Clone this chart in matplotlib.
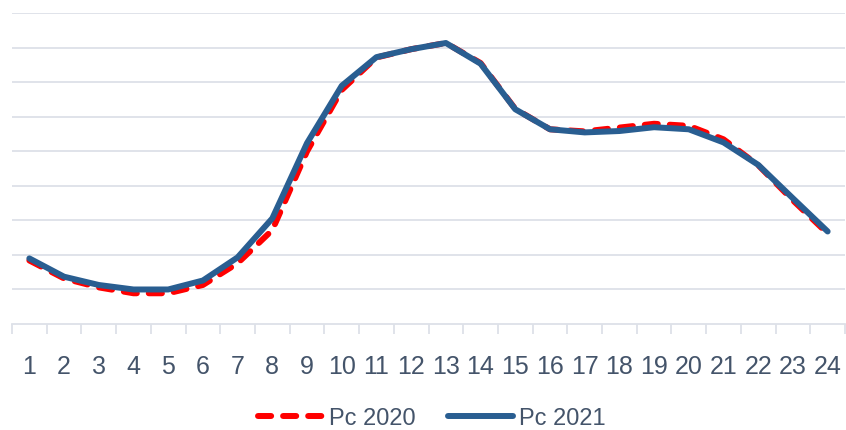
import matplotlib.pyplot as plt
import numpy as np

hours = list(range(1, 25))
pc_2020 = [1.84, 1.32, 1.06, 0.89, 0.89, 1.13, 1.76, 2.72, 5.00, 6.78, 7.72, 7.96, 8.14, 7.56,
           6.23, 5.64, 5.58, 5.69, 5.80, 5.74, 5.35, 4.60, 3.58, 2.62]
pc_2021 = [1.90, 1.37, 1.13, 1.00, 1.00, 1.26, 1.93, 3.06, 5.24, 6.90, 7.73, 7.96, 8.14, 7.54,
           6.22, 5.64, 5.55, 5.59, 5.70, 5.64, 5.26, 4.61, 3.64, 2.68]

plt.rcParams['font.family'] = ['Liberation Sans', 'DejaVu Sans']

fig = plt.figure(figsize=(8.46, 4.30), dpi=100)
ax = fig.add_axes([12 / 846, 106 / 430, 833 / 846, 310.7 / 430])

ax.plot(hours, pc_2020, color='#FF0000', lw=4.3, dashes=(2.2, 2.0),
        dash_capstyle='round', solid_capstyle='round', label='Pc 2020', zorder=3)
ax.plot(hours, pc_2021, color='#295E91', lw=4.3, solid_capstyle='round',
        label='Pc 2021', zorder=4)

ax.set_xlim(0.5, 24.5)
ax.set_ylim(0, 9)
ax.set_yticks(np.arange(1, 10))
ax.yaxis.grid(True, color='#DDE1E8', lw=1.3)
ax.set_axisbelow(True)
ax.tick_params(axis='y', left=False, labelleft=False)

for s in ['top', 'right', 'left']:
    ax.spines[s].set_visible(False)
ax.spines['bottom'].set_color('#DDE1E8')
ax.spines['bottom'].set_linewidth(1.3)

# labels centred on each hour, small ticks between the hours
ax.set_xticks(hours)
ax.set_xticklabels([str(h) for h in hours], fontsize=18, color='#44546A')
ax.set_xticks(np.arange(0.5, 25, 1), minor=True)
ax.tick_params(axis='x', which='major', length=0, pad=22)
ax.tick_params(axis='x', which='minor', length=7, color='#DDE1E8', width=1.3)

ax.legend(loc='center', bbox_to_anchor=(0.504, -0.305), ncol=2, frameon=False,
          fontsize=17, labelcolor='#44546A', handlelength=2.75, handletextpad=0.25,
          columnspacing=1.35, borderpad=0.2)

fig.savefig('out.png', dpi=100)
